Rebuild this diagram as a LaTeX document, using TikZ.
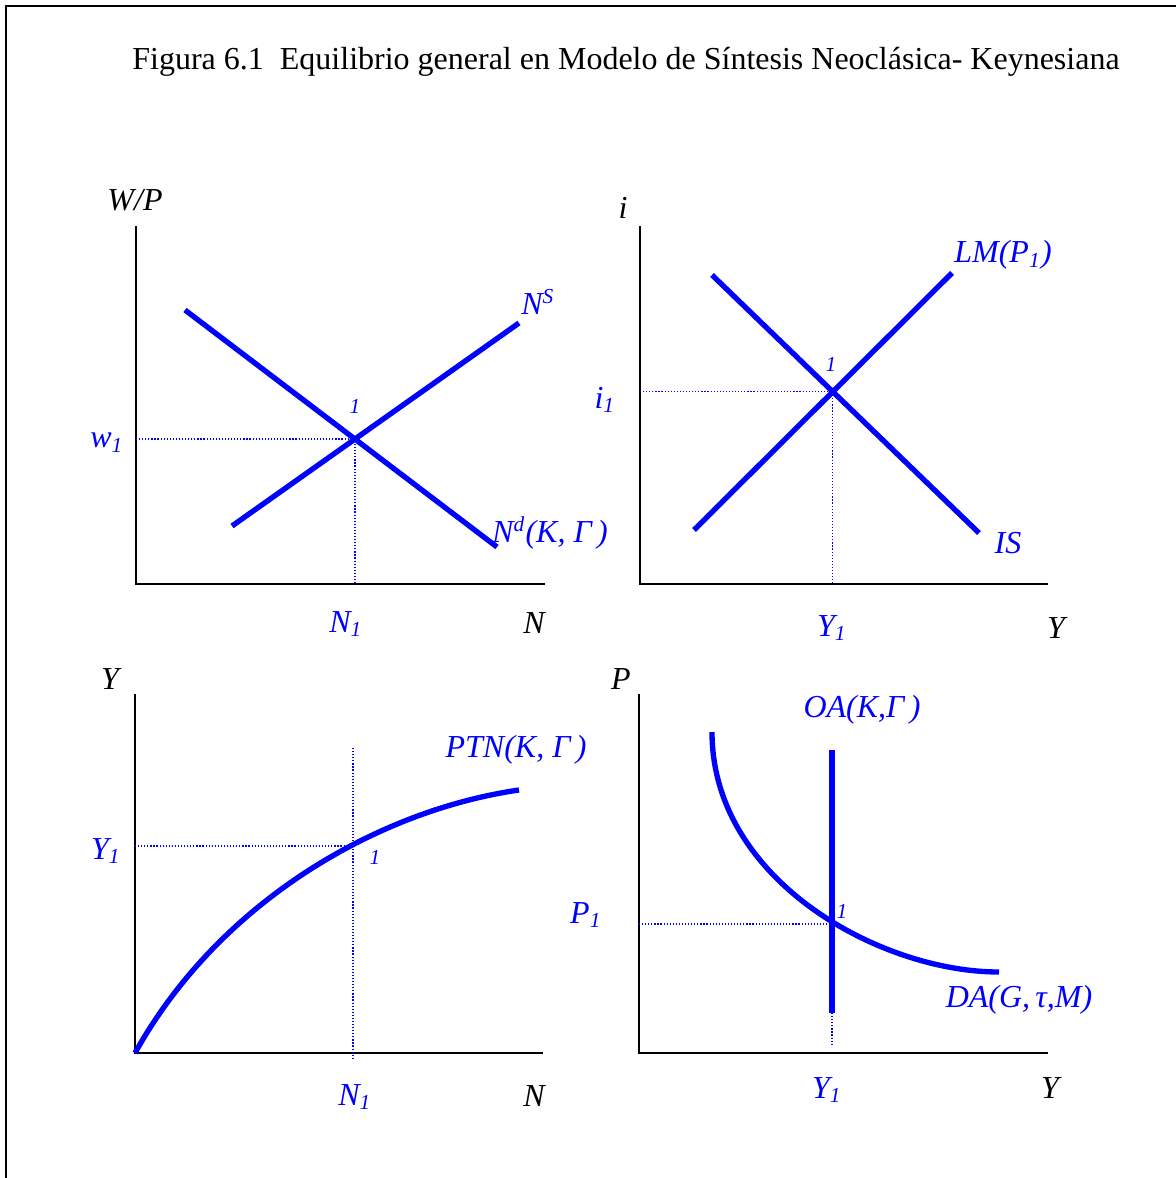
\documentclass[tikz,border=0pt]{standalone}
\usepackage{fontspec}
\setmainfont{Liberation Serif}

\begin{document}
\begin{tikzpicture}[
  x=0.375pt, y=-0.375pt,
  frame/.style={line width=1pt},
  axis/.style={line width=0.8pt},
  curve/.style={draw=blue,line width=2pt},
  guide/.style={draw=blue,line width=0.45pt,dash pattern=on 0.45pt off 0.7pt},
  axlabel/.style={font=\fontsize{12}{14}\selectfont\itshape,inner sep=0pt},
  curvelabel/.style={axlabel,text=blue},
  eqlabel/.style={font=\fontsize{8}{9}\selectfont\itshape,text=blue,inner sep=0pt}
]
\useasboundingbox (0,0) rectangle (1176,1178);

% Frame and title
\draw[frame] (6,1185) -- (6,6) -- (1185,6);
\node[font=\fontsize{12}{14}\selectfont,anchor=base] (title) at (626,69)
  {Figura 6.1\ \ Equilibrio general en Modelo de Síntesis Neoclásica- Keynesiana};

% Labour market
\coordinate (O1) at (136,584);
\draw[axis] (136,226) -- (O1) -- (545,584);
\coordinate (Nd0) at (185,310);
\coordinate (Nd1) at (497,547);
\coordinate (Ns0) at (232,526);
\coordinate (Ns1) at (519,323);
\draw[curve] (Nd0) -- (Nd1);
\draw[curve] (Ns0) -- (Ns1);
\coordinate (E1) at (intersection of Nd0--Nd1 and Ns0--Ns1);
\draw[guide] (O1 |- E1) -- (E1) -- (E1 |- O1);
\node[axlabel]    (wp)  at (135,200) {W/P};
\node[axlabel]    (nx)  at (534,623) {N};
\node[curvelabel] (w1)  at (107,443) {w\textsubscript{1}};
\node[curvelabel] (n1)  at (346,624) {N\textsubscript{1}};
\node[curvelabel] (ns)  at (538,302) {N\textsuperscript{S}};
\node[curvelabel] (nd)  at (550,533) {N\textsuperscript{d}(K,\ Γ\,)};
\node[eqlabel]    (e1)  at (355,406) {1};

% Goods and money market
\coordinate (O2) at (640,584);
\draw[axis] (640,226) -- (O2) -- (1048,584);
\coordinate (Is0) at (712,275);
\coordinate (Is1) at (979,533);
\coordinate (Lm0) at (694,530);
\coordinate (Lm1) at (952,273);
\draw[curve] (Is0) -- (Is1);
\draw[curve] (Lm0) -- (Lm1);
\coordinate (E2) at (intersection of Is0--Is1 and Lm0--Lm1);
\draw[guide] (O2 |- E2) -- (E2) -- (E2 |- O2);
\node[axlabel]    (ix)  at (623,208) {i};
\node[axlabel]    (yx)  at (1056,628) {Y};
\node[curvelabel] (i1)  at (605,400) {i\textsubscript{1}};
\node[curvelabel] (y1)  at (832,628) {Y\textsubscript{1}};
\node[curvelabel] (lm)  at (1003,255) {LM(P\textsubscript{1})};
\node[curvelabel] (is)  at (1008,543) {IS};
\node[eqlabel]    (e2)  at (831,364) {1};

% Production function
\coordinate (O3) at (135,1053);
\coordinate (Ptn) at (519,790);
\draw[axis] (135,694) -- (O3) -- (543,1053);
\draw[curve] (O3) .. controls (220,900) and (380,810) .. (Ptn);
\coordinate (E3) at (353,846);
\draw[guide] (O3 |- E3) -- (E3);
\draw[guide] (353,748) -- (353,1058);
\node[axlabel]    (yy)  at (110,679) {Y};
\node[axlabel]    (nn)  at (534,1096) {N};
\node[curvelabel] (y1b) at (106,851) {Y\textsubscript{1}};
\node[curvelabel] (n1b) at (355,1097) {N\textsubscript{1}};
\node[curvelabel] (ptn) at (516,750) {PTN(K,\ Γ\,)};
\node[eqlabel]    (e3)  at (375,857) {1};

% Aggregate supply and demand
\coordinate (O4) at (639,1053);
\coordinate (Da0) at (712,732);
\coordinate (Da1) at (999,972);
\draw[axis] (639,694) -- (O4) -- (1048,1053);
\draw[curve] (Da0) .. controls (712,880) and (880,972) .. (Da1);
\coordinate (Oa0) at (832,750);
\coordinate (Oa1) at (832,1013);
\draw[curve] (Oa0) -- (Oa1);
\coordinate (E4) at (832,924);
\draw[guide] (O4 |- E4) -- (E4);
\draw[guide] (Oa1) -- (832,1045);
\node[axlabel]    (px)  at (621,679) {P};
\node[axlabel]    (yz)  at (1050,1088) {Y};
\node[curvelabel] (p1)  at (586,915) {P\textsubscript{1}};
\node[curvelabel] (y1c) at (827,1090) {Y\textsubscript{1}};
\node[curvelabel] (oa)  at (862,710) {OA(K,Γ\,)};
\node[curvelabel] (da)  at (1019,1000) {DA(G,\,τ,M)};
\node[eqlabel]    (e4)  at (842,911) {1};
\end{tikzpicture}
\end{document}
